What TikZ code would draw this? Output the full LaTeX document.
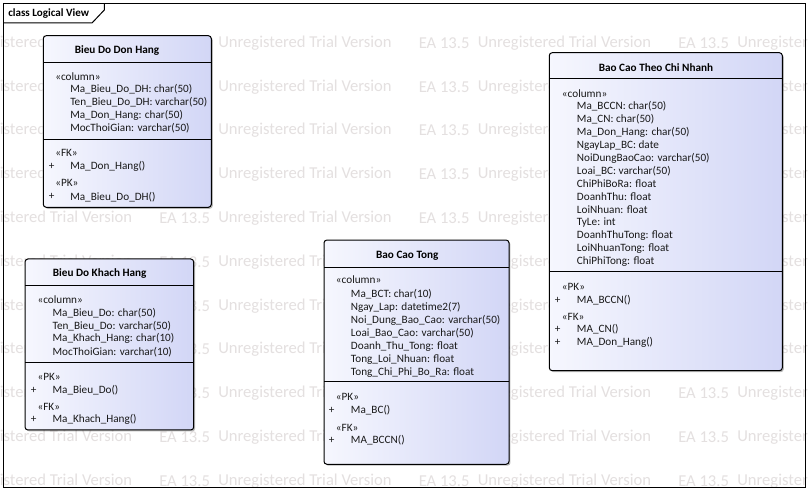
\documentclass[tikz,border=0pt]{standalone}
\usepackage{fontspec}
\setmainfont{Carlito}
\usetikzlibrary{shadows}
\definecolor{boxL}{RGB}{246,247,254}
\definecolor{boxR}{RGB}{210,214,246}
\definecolor{wmark}{RGB}{228,224,224}
\definecolor{txtc}{RGB}{25,25,25}
\begin{document}
\begin{tikzpicture}[x=0.75pt,y=-0.75pt,
  umlbox/.style={draw=black, line width=0.75pt, rounded corners=2.2pt,
    left color=boxL, right color=boxR, inner sep=0pt,
    drop shadow={shadow xshift=1.1pt, shadow yshift=-1.1pt, fill=black, opacity=0.28}},
  sepline/.style={draw=black, line width=0.75pt},
  item/.style={anchor=west, inner sep=0pt, text=txtc, font=\fontsize{8.4pt}{10pt}\selectfont},
  ttl/.style={inner sep=0pt, text=black, font=\fontsize{8.4pt}{10pt}\selectfont\bfseries},
  wm/.style={anchor=west, inner sep=0pt, text=wmark, font=\fontsize{12.45pt}{14pt}\selectfont},
  framestyle/.style={draw=black, line width=0.75pt}]
\useasboundingbox (0,0) rectangle (808,491);
\clip (0,0) rectangle (808,491);
\fill[white] (0,0) rectangle (808,491);
% watermark (tiles wholly hidden behind the class boxes are left out)
\foreach \r in {0,...,10}{
  \foreach \c in {1,2,3}{
    \pgfmathtruncatemacro\hide{((\c==1) && (\r<4)) || ((\c==3) && (\r>0) && (\r<8)) || ((\c==2) && (\r>4) && (\r<10))}
    \ifnum\hide=0
      \node[wm] (wa-\r-\c) at ({-100.5+259.5*\c},{43+43.8*\r}) {EA 13.5};
    \fi
  }
  \foreach \c in {0,...,3}{
    \node[wm] (wb-\r-\c) at ({-41.5+259.5*\c},{43+43.8*\r}) {Unregistered Trial Version};
  }
}
% frame
\draw[framestyle] (3,4) rectangle (805.5,487.5);
\draw[framestyle] (3,23) -- (92,23) -- (104.3,10) -- (104.3,4);
\node[anchor=west, inner sep=0pt, font=\fontsize{8.3pt}{10pt}\selectfont\bfseries] (frlabel) at (8,13.3) {class Logical View};

% ---------- Box 1: Bieu Do Don Hang
\node[umlbox, minimum width=126pt, minimum height=128.7pt] (b1) at (127.3,121.5) {};
\draw[sepline] (43.3,62.3) -- (211.3,62.3);
\draw[sepline] (43.3,139.3) -- (211.3,139.3);
\node[ttl] (b1t) at (117,50.7) {Bieu Do Don Hang};
\node[item] (b1s1) at (55,76.7) {«column»};
\node[item] (b1a1) at (70,89.3) {Ma\_Bieu\_Do\_DH: char(50)};
\node[item] (b1a2) at (70,102.3) {Ten\_Bieu\_Do\_DH: varchar(50)};
\node[item] (b1a3) at (70,115.3) {Ma\_Don\_Hang: char(50)};
\node[item] (b1a4) at (70,128.3) {MocThoiGian: varchar(50)};
\node[item] (b1s2) at (55,153.3) {«FK»};
\node[item] (b1p1) at (48.5,166) {+};
\node[item] (b1o1) at (70,166) {Ma\_Don\_Hang()};
\node[item] (b1s3) at (55,183.3) {«PK»};
\node[item] (b1p2) at (48.5,196.7) {+};
\node[item] (b1o2) at (70,196.7) {Ma\_Bieu\_Do\_DH()};

% ---------- Box 2: Bieu Do Khach Hang
\node[umlbox, minimum width=126.5pt, minimum height=128.25pt] (b2) at (109.35,344.5) {};
\draw[sepline] (25,285.7) -- (193.7,285.7);
\draw[sepline] (25,362.3) -- (193.7,362.3);
\node[ttl] (b2t) at (99.7,273.3) {Bieu Do Khach Hang};
\node[item] (b2s1) at (37.3,299.3) {«column»};
\node[item] (b2a1) at (52.3,312.7) {Ma\_Bieu\_Do: char(50)};
\node[item] (b2a2) at (52.3,325.7) {Ten\_Bieu\_Do: varchar(50)};
\node[item] (b2a3) at (52.3,338.7) {Ma\_Khach\_Hang: char(10)};
\node[item] (b2a4) at (52.3,351.7) {MocThoiGian: varchar(10)};
\node[item] (b2s2) at (37.3,376.7) {«PK»};
\node[item] (b2p1) at (30.5,390) {+};
\node[item] (b2o1) at (52.3,390) {Ma\_Bieu\_Do()};
\node[item] (b2s3) at (37.3,406.7) {«FK»};
\node[item] (b2p2) at (30.5,419.3) {+};
\node[item] (b2o2) at (52.3,419.3) {Ma\_Khach\_Hang()};

% ---------- Box 3: Bao Cao Tong
\node[umlbox, minimum width=138.75pt, minimum height=168.2pt] (b3) at (416.5,352.15) {};
\draw[sepline] (324,267.3) -- (509,267.3);
\draw[sepline] (324,381.7) -- (509,381.7);
\node[ttl] (b3t) at (407.3,255.7) {Bao Cao Tong};
\node[item] (b3s1) at (335.7,279.3) {«column»};
\node[item] (b3a1) at (350.7,294.3) {Ma\_BCT: char(10)};
\node[item] (b3a2) at (350.7,307.3) {Ngay\_Lap: datetime2(7)};
\node[item] (b3a3) at (350.7,320.3) {Noi\_Dung\_Bao\_Cao: varchar(50)};
\node[item] (b3a4) at (350.7,333.3) {Loai\_Bao\_Cao: varchar(50)};
\node[item] (b3a5) at (350.7,346.3) {Doanh\_Thu\_Tong: float};
\node[item] (b3a6) at (350.7,359.3) {Tong\_Loi\_Nhuan: float};
\node[item] (b3a7) at (350.7,372.3) {Tong\_Chi\_Phi\_Bo\_Ra: float};
\node[item] (b3s2) at (335.7,397.3) {«PK»};
\node[item] (b3p1) at (328.5,410) {+};
\node[item] (b3o1) at (350.7,410) {Ma\_BC()};
\node[item] (b3s3) at (335.7,427.7) {«FK»};
\node[item] (b3p2) at (328.5,440) {+};
\node[item] (b3o2) at (350.7,440) {MA\_BCCN()};

% ---------- Box 4: Bao Cao Theo Chi Nhanh
\node[umlbox, minimum width=174.75pt, minimum height=238.5pt] (b4) at (665.8,211.7) {};
\draw[sepline] (549.3,79) -- (782.3,79);
\draw[sepline] (549.3,271.7) -- (782.3,271.7);
\node[ttl] (b4t) at (656,67.3) {Bao Cao Theo Chi Nhanh};
\node[item] (b4s1) at (561.7,93.3) {«column»};
\foreach \t [count=\i from 0] in {Ma\_BCCN: char(50),Ma\_CN: char(50),Ma\_Don\_Hang: char(50),NgayLap\_BC: date,NoiDungBaoCao: varchar(50),Loai\_BC: varchar(50),ChiPhiBoRa: float,DoanhThu: float,LoiNhuan: float,TyLe: int,DoanhThuTong: float,LoiNhuanTong: float,ChiPhiTong: float}{
  \node[item] (b4a\i) at (576.7,{106.4+12.95*\i}) {\t};
}
\node[item] (b4s2) at (561.7,287.3) {«PK»};
\node[item] (b4p1) at (554.5,300) {+};
\node[item] (b4o1) at (576.7,300) {MA\_BCCN()};
\node[item] (b4s3) at (561.7,317.3) {«FK»};
\node[item] (b4p2) at (554.5,329.5) {+};
\node[item] (b4o2) at (576.7,329.5) {MA\_CN()};
\node[item] (b4p3) at (554.5,342.7) {+};
\node[item] (b4o3) at (576.7,342.7) {MA\_Don\_Hang()};
\end{tikzpicture}
\end{document}
